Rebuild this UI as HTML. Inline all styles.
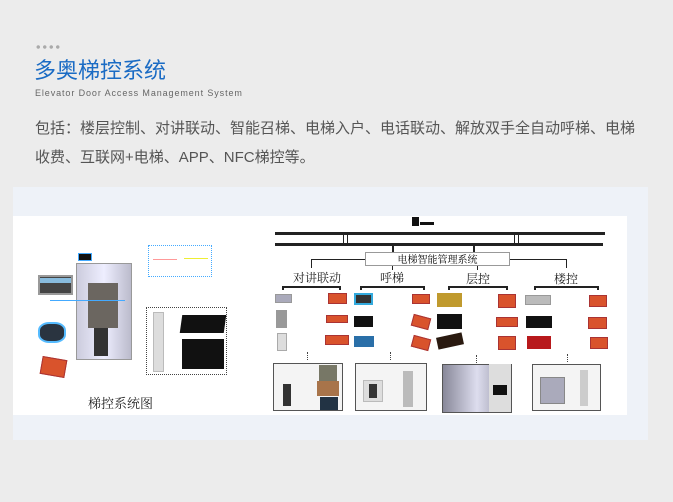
<!DOCTYPE html><html><head><meta charset="utf-8"><style>
*{margin:0;padding:0;box-sizing:border-box}
body{width:673px;height:502px;background:#ececec;position:relative;overflow:hidden;font-family:"Liberation Sans","Noto Sans CJK SC",sans-serif}
.a{position:absolute}
.b{position:absolute;background:#d9532c;border:1px solid #a33}
.k{position:absolute;background:#111}
.l{position:absolute;background:#222}
.t{position:absolute;font-family:"Noto Serif CJK SC",serif;color:#222;white-space:nowrap}
.d{position:absolute;width:1px;height:8px;border-left:1px dotted #444}
.ph{position:absolute;border:1px solid #555;background:#f4f4f4}
</style></head><body>
<div class="a" style="left:35px;top:45px;width:26px;height:4px;background:radial-gradient(circle,#aaa 1.5px,transparent 2px) 0 0/6.5px 4px"></div>
<div class="a" style="left:34px;top:53px;font-size:22px;color:#1a6bc4;white-space:nowrap">多奥梯控系统</div>
<div class="a" style="left:35px;top:88px;font-size:9px;color:#666;white-space:nowrap;letter-spacing:0.9px">Elevator Door Access Management System</div>
<div class="a" style="left:35px;top:114px;font-size:15px;color:#555;line-height:29px;width:612px">包括：楼层控制、对讲联动、智能召梯、电梯入户、电话联动、解放双手全自动呼梯、电梯收费、互联网+电梯、APP、NFC梯控等。</div>
<div class="a" style="left:13px;top:187px;width:635px;height:253px;background:#eef2f8"></div>
<div class="a" style="left:13px;top:216px;width:614px;height:199px;background:#fff"></div>
<!-- left diagram -->
<div class="a" style="left:76px;top:263px;width:56px;height:97px;background:linear-gradient(90deg,#ccd,#eef,#bbc);border:1px solid #999"></div>
<div class="a" style="left:88px;top:283px;width:30px;height:45px;background:#6b6660"></div>
<div class="a" style="left:94px;top:328px;width:14px;height:28px;background:#333"></div>
<div class="k" style="left:78px;top:253px;width:14px;height:8px;border:1px solid #4af"></div>
<div class="a" style="left:38px;top:275px;width:35px;height:20px;background:#444;border:2px solid #999"></div>
<div class="a" style="left:40px;top:278px;width:31px;height:5px;background:#8bd"></div>
<div class="a" style="left:38px;top:322px;width:28px;height:21px;background:#2a3440;border:2px solid #5bf;border-radius:40%"></div>
<div class="b" style="left:41px;top:358px;width:25px;height:18px;transform:rotate(10deg)"></div>
<div class="a" style="left:148px;top:245px;width:64px;height:32px;border:1px dotted #4af"></div>
<div class="a" style="left:153px;top:259px;width:24px;height:1px;background:#f99"></div>
<div class="a" style="left:184px;top:258px;width:24px;height:1px;background:#ee3"></div>
<div class="a" style="left:146px;top:307px;width:81px;height:68px;border:1px dotted #444"></div>
<div class="a" style="left:153px;top:312px;width:11px;height:60px;background:#ddd;border:1px solid #bbb"></div>
<div class="k" style="left:181px;top:315px;width:44px;height:18px;transform:skewX(-8deg)"></div>
<div class="k" style="left:182px;top:339px;width:42px;height:30px"></div>
<div class="a" style="left:50px;top:300px;width:75px;height:1px;background:#4af"></div>
<div class="t" style="left:88px;top:393px;font-size:13px">梯控系统图</div>
<!-- right diagram -->
<div class="k" style="left:412px;top:217px;width:7px;height:9px"></div>
<div class="k" style="left:420px;top:222px;width:14px;height:3px"></div>
<div class="l" style="left:275px;top:232px;width:330px;height:3px"></div>
<div class="l" style="left:275px;top:243px;width:328px;height:3px"></div>
<div class="a" style="left:343px;top:234px;width:5px;height:10px;border:1px solid #222;border-top:0;border-bottom:0"></div>
<div class="a" style="left:514px;top:234px;width:5px;height:10px;border:1px solid #222;border-top:0;border-bottom:0"></div>
<div class="l" style="left:392px;top:246px;width:2px;height:6px"></div>
<div class="l" style="left:473px;top:246px;width:2px;height:6px"></div>
<div class="a" style="left:365px;top:252px;width:145px;height:14px;border:1px solid #999;background:#fff;font-family:'Noto Serif CJK SC',serif;font-size:10px;text-align:center;line-height:12px">电梯智能管理系统</div>
<div class="l" style="left:311px;top:259px;width:54px;height:1px"></div><div class="l" style="left:311px;top:259px;width:1px;height:9px"></div>
<div class="l" style="left:510px;top:259px;width:56px;height:1px"></div><div class="l" style="left:566px;top:259px;width:1px;height:9px"></div>
<div class="l" style="left:392px;top:266px;width:1px;height:4px"></div><div class="l" style="left:477px;top:266px;width:1px;height:4px"></div>
<div class="t" style="left:293px;top:269px;font-size:12px">对讲联动</div>
<div class="t" style="left:380px;top:269px;font-size:12px">呼梯</div>
<div class="t" style="left:466px;top:270px;font-size:12px">层控</div>
<div class="t" style="left:554px;top:270px;font-size:12px">楼控</div>
<div class="a" style="left:282px;top:286px;width:59px;height:4px;border:2px solid #222;border-bottom:0"></div>
<div class="a" style="left:360px;top:286px;width:65px;height:4px;border:2px solid #222;border-bottom:0"></div>
<div class="a" style="left:448px;top:286px;width:60px;height:4px;border:2px solid #222;border-bottom:0"></div>
<div class="a" style="left:534px;top:286px;width:65px;height:4px;border:2px solid #222;border-bottom:0"></div>
<!-- devices -->
<div class="a" style="left:275px;top:294px;width:17px;height:9px;background:#aab;border:1px solid #999"></div>
<div class="a" style="left:276px;top:310px;width:11px;height:18px;background:#999"></div>
<div class="a" style="left:277px;top:333px;width:10px;height:18px;background:#ddd;border:1px solid #aaa"></div>
<div class="b" style="left:328px;top:293px;width:19px;height:11px"></div>
<div class="b" style="left:326px;top:315px;width:22px;height:8px"></div>
<div class="b" style="left:325px;top:335px;width:24px;height:10px"></div>
<div class="a" style="left:354px;top:293px;width:19px;height:12px;background:#333;border:2px solid #3ad"></div>
<div class="k" style="left:354px;top:316px;width:19px;height:11px"></div>
<div class="a" style="left:354px;top:336px;width:20px;height:11px;background:#2a6fa8"></div>
<div class="b" style="left:412px;top:294px;width:18px;height:10px"></div>
<div class="b" style="left:412px;top:316px;width:18px;height:12px;transform:rotate(15deg)"></div>
<div class="b" style="left:412px;top:337px;width:18px;height:12px;transform:rotate(15deg)"></div>
<div class="a" style="left:437px;top:293px;width:25px;height:14px;background:#c09a2e"></div>
<div class="k" style="left:437px;top:314px;width:25px;height:15px"></div>
<div class="a" style="left:437px;top:335px;width:26px;height:12px;background:#2a1a10;transform:rotate(-12deg)"></div>
<div class="b" style="left:498px;top:294px;width:18px;height:14px"></div>
<div class="b" style="left:496px;top:317px;width:22px;height:10px"></div>
<div class="b" style="left:498px;top:336px;width:18px;height:14px"></div>
<div class="a" style="left:525px;top:295px;width:26px;height:10px;background:#bbb;border:1px solid #999"></div>
<div class="k" style="left:526px;top:316px;width:26px;height:12px"></div>
<div class="a" style="left:527px;top:336px;width:24px;height:13px;background:#b8191c"></div>
<div class="b" style="left:589px;top:295px;width:18px;height:12px"></div>
<div class="b" style="left:588px;top:317px;width:19px;height:12px"></div>
<div class="b" style="left:590px;top:337px;width:18px;height:12px"></div>
<div class="d" style="left:307px;top:352px"></div><div class="d" style="left:390px;top:352px"></div>
<div class="d" style="left:476px;top:355px"></div><div class="d" style="left:567px;top:354px"></div>
<div class="ph" style="left:273px;top:363px;width:70px;height:48px"></div>
<div class="a" style="left:319px;top:365px;width:18px;height:16px;background:#776"></div>
<div class="a" style="left:317px;top:381px;width:22px;height:15px;background:#a8744a"></div>
<div class="a" style="left:320px;top:397px;width:18px;height:13px;background:#234"></div>
<div class="a" style="left:283px;top:384px;width:8px;height:22px;background:#333"></div>
<div class="ph" style="left:355px;top:363px;width:72px;height:48px"></div>
<div class="a" style="left:363px;top:380px;width:20px;height:22px;background:#ddd;border:1px solid #bbb"></div>
<div class="a" style="left:369px;top:384px;width:8px;height:14px;background:#333"></div>
<div class="a" style="left:403px;top:371px;width:10px;height:36px;background:#bbb"></div>
<div class="ph" style="left:442px;top:364px;width:70px;height:49px;background:linear-gradient(90deg,#889,#dde,#889)"></div>
<div class="a" style="left:489px;top:364px;width:22px;height:48px;background:#ddd"></div>
<div class="k" style="left:493px;top:385px;width:14px;height:10px"></div>
<div class="ph" style="left:532px;top:364px;width:69px;height:47px"></div>
<div class="a" style="left:540px;top:377px;width:25px;height:27px;background:#aab;border:1px solid #888"></div>
<div class="a" style="left:580px;top:370px;width:8px;height:36px;background:#ccc"></div>
</body></html>
